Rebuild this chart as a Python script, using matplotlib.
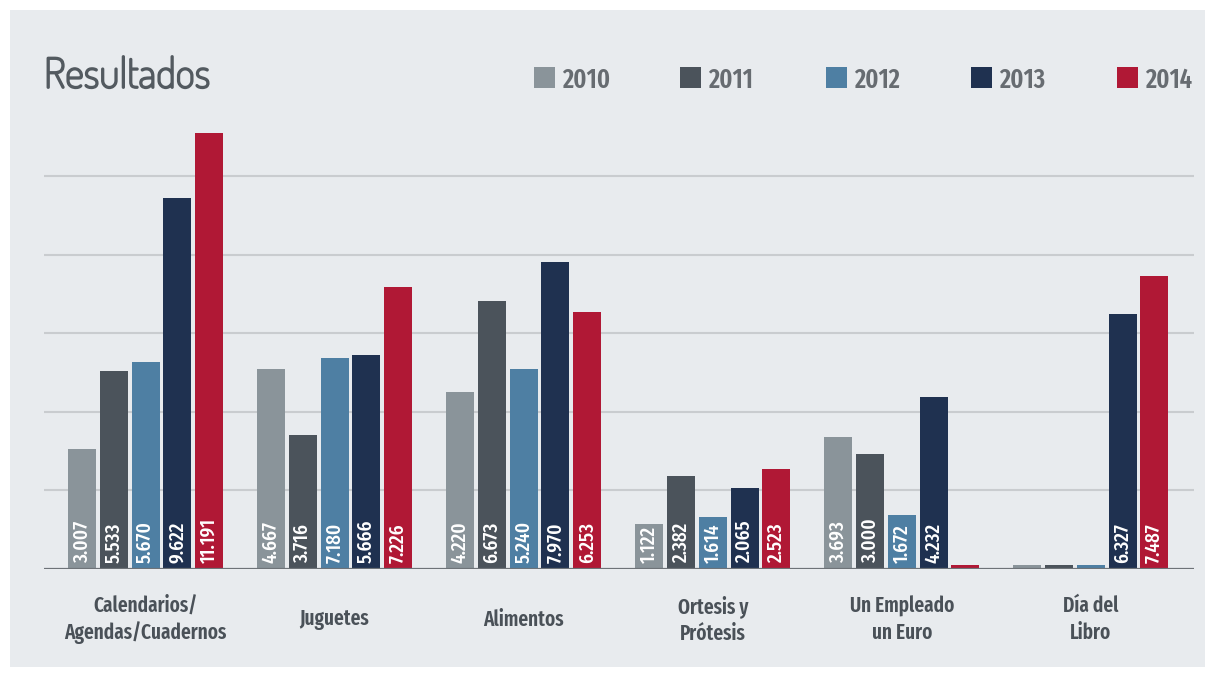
import numpy as np
import matplotlib
matplotlib.use("Agg")
import matplotlib.pyplot as plt
import matplotlib.patheffects as pe
from matplotlib.patches import Rectangle
from matplotlib import font_manager

# data
categories = ["Calendarios/\nAgendas/Cuadernos", "Juguetes", "Alimentos",
              "Ortesis y\nPrótesis", "Un Empleado\nun Euro", "Día del\nLibro"]
years = ["2010", "2011", "2012", "2013", "2014"]
colors = ["#8a949a", "#4b535b", "#4e7fa3", "#1f3150", "#b01835"]

# bar heights as drawn (grid step = 2)
heights = {
    "2010": [3.05, 5.09, 4.50, 1.15, 3.36, 0.10],
    "2011": [5.04, 3.41, 6.82, 2.37, 2.93, 0.10],
    "2012": [5.27, 5.37, 5.09, 1.32, 1.37, 0.10],
    "2013": [9.44, 5.45, 7.81, 2.06, 4.38, 6.49],
    "2014": [11.09, 7.18, 6.54, 2.54, 0.10, 7.46],
}
# printed value labels
labels = {
    "2010": ["3.007", "4.667", "4.220", "1.122", "3.693", ""],
    "2011": ["5.533", "3.716", "6.673", "2.382", "3.000", ""],
    "2012": ["5.670", "7.180", "5.240", "1.614", "1.672", ""],
    "2013": ["9.622", "5.666", "7.970", "2.065", "4.232", "6.327"],
    "2014": ["11.191", "7.226", "6.253", "2.523", "", "7.487"],
}


def pick(*cands):
    names = {f.name for f in font_manager.fontManager.ttflist}
    for c in cands:
        if c in names:
            return c
    return "DejaVu Sans"


narrow = pick("Fira Sans Extra Condensed", "Barlow Condensed", "PT Sans Narrow")
title_font = pick("Dosis SemiBold", "Dosis Medium", "Dosis", "Lato")
# plain Dosis comes out thin here, so thicken it a little
title_fx = [pe.withStroke(linewidth=1.3, foreground="#535a60")] if title_font == "Dosis" else []

W, H = 1215, 677
fig = plt.figure(figsize=(W / 100, H / 100), dpi=100, facecolor="white")
fig.add_artist(Rectangle((10 / W, 10 / H), 1195 / W, 657 / H, transform=fig.transFigure,
                         facecolor="#e8ebee", edgecolor="none", zorder=0))

ymax = 12
px_per_unit = 39.3
ax = fig.add_axes([44 / W, 108 / H, 1150 / W, ymax * px_per_unit / H])
ax.set_facecolor("none")

x = np.arange(len(categories))
pitch = 0.168
width = 0.148
for i, yr in enumerate(years):
    xs = x + (i - 2) * pitch
    ax.bar(xs, heights[yr], width=width, color=colors[i], zorder=3)
    for xi, lab in zip(xs, labels[yr]):
        if lab:
            ax.annotate(lab, xy=(xi, 0), xytext=(0, 4), textcoords="offset points",
                        rotation=90, ha="center", va="bottom", color="white",
                        fontsize=15, fontweight=500, family=narrow, zorder=4)

ax.set_xlim(-0.537, 5.545)
ax.set_ylim(0, ymax)
ax.set_yticks([2, 4, 6, 8, 10])
ax.yaxis.grid(True, color="#c9cccf", linewidth=1.5)
ax.set_axisbelow(True)
ax.tick_params(left=False, bottom=False, labelleft=False, labelbottom=False)
for s in ax.spines.values():
    s.set_visible(False)
ax.axhline(0, color="#6e7378", linewidth=1.6, zorder=5)

for xi, cat in zip(x, categories):
    ax.text(xi, -50.5 / (ymax * px_per_unit), cat, transform=ax.get_xaxis_transform(),
            ha="center", va="center", fontsize=15, fontweight="semibold", family=narrow,
            color="#4a5158", linespacing=1.32)

fig.text(44 / W, 1 - 88 / H, "Resultados", fontsize=30, fontweight="semibold", family=title_font,
         color="#535a60", ha="left", va="baseline", path_effects=title_fx)

# legend
for i, yr in enumerate(years):
    lx = 534 + i * 145.8
    fig.add_artist(Rectangle((lx / W, 1 - 88 / H), 21 / W, 21 / H, transform=fig.transFigure,
                             facecolor=colors[i], edgecolor="none"))
    fig.text((lx + 28) / W, 1 - 88 / H, yr, fontsize=19, fontweight="semibold", family=narrow,
             color="#676c71", ha="left", va="baseline")

fig.savefig("out.png", dpi=100, facecolor="white")
